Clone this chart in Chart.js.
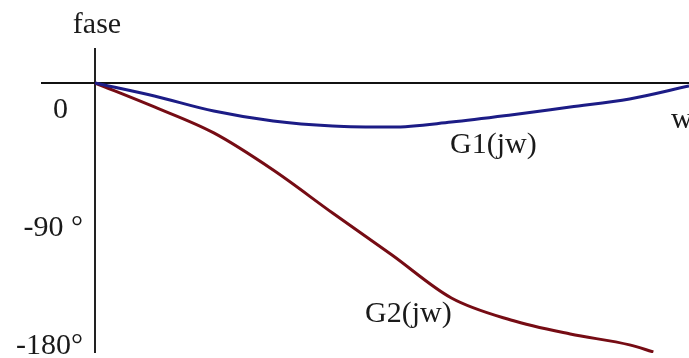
<!DOCTYPE html>
<html>
<head>
<meta charset="utf-8">
<script src="https://cdn.jsdelivr.net/npm/chart.js@4.4.1/dist/chart.umd.min.js"></script>
<style>
  html, body { margin: 0; padding: 0; background: #fff; }
  #wrap { width: 689px; height: 358px; position: relative; }
</style>
</head>
<body>
<div id="wrap"><canvas id="c"></canvas></div>
<script>
// Frequency (arbitrary units along w axis)
const omega = [0, 1, 2, 3, 4, 5, 6, 7, 8, 9, 10];
const omegaG2 = [0, 1, 2, 3, 4, 5, 6, 7, 8, 9, 9.4];
// Phase in degrees
const phaseG1 = [0, -9.9, -21.4, -29.0, -32.8, -33.6, -29.8, -24.4, -18.3, -12.2, -2.3];
const phaseG2 = [0, -18.3, -38.1, -66.4, -99.2, -131.2, -164.0, -180.8, -191.5, -199.8, -205.2];
// Y tick values and labels
const yTickValues = [0, -90, -180];
const yTickLabels = ["0  ", "-90 °", "-180°"];
// Texts
const axisTitleY = "fase";
const axisTitleX = "w";
const seriesNames = ["G1(jw)", "G2(jw)"];

const FONT = "'Liberation Serif', 'Times New Roman', serif";

const textPlugin = {
  id: 'texts',
  afterDraw(chart) {
    const ctx = chart.ctx;
    ctx.save();
    ctx.fillStyle = '#1a1a1a';
    ctx.font = "30px " + FONT;
    ctx.textBaseline = 'alphabetic';
    ctx.textAlign = 'center';
    ctx.fillText(axisTitleY, 97, 33);
    ctx.textAlign = 'left';
    ctx.fillText(axisTitleX, 671, 128);
    ctx.fillText(seriesNames[0], 450, 153);
    ctx.fillText(seriesNames[1], 365, 322);
    ctx.restore();
  }
};

new Chart(document.getElementById('c'), {
  type: 'line',
  data: {
    datasets: [
      {
        label: seriesNames[0],
        data: omega.map((x, i) => ({x, y: phaseG1[i]})),
        borderColor: '#1c1c86',
        borderWidth: 3,
        pointRadius: 0,
        cubicInterpolationMode: 'monotone',
        fill: false
      },
      {
        label: seriesNames[1],
        data: omegaG2.map((x, i) => ({x, y: phaseG2[i]})),
        borderColor: '#760c14',
        borderWidth: 3,
        pointRadius: 0,
        cubicInterpolationMode: 'monotone',
        fill: false
      }
    ]
  },
  options: {
    responsive: true,
    maintainAspectRatio: false,
    animation: false,
    layout: { padding: { left: 42, top: 48, right: 0, bottom: 5 } },
    plugins: { legend: { display: false }, tooltip: { enabled: false } },
    scales: {
      x: {
        type: 'linear',
        min: -0.892,
        max: 10,
        position: { y: 0 },
        afterBuildTicks(axis) { axis.ticks = [{ value: 0 }]; },
        grid: { display: true, drawOnChartArea: true, drawTicks: false, color: '#222', lineWidth: 2 },
        border: { display: true, color: '#111', width: 2 },
        ticks: { display: false },
        afterFit(axis) { axis.paddingLeft = 0; axis.paddingRight = 0; axis.paddingTop = 0; axis.paddingBottom = 0; }
      },
      y: {
        type: 'linear',
        min: -206,
        max: 26.7,
        position: { x: -0.2 },
        grid: { display: false },
        border: { display: false },
        afterBuildTicks(axis) { axis.ticks = yTickValues.map(v => ({ value: v })); },
        afterFit(axis) { axis.paddingLeft = 0; axis.paddingRight = 0; axis.paddingTop = 0; axis.paddingBottom = 0; },
        ticks: {
          autoSkip: false,
          padding: 0,
          labelOffset: 27,
          color: '#1a1a1a',
          font: { family: FONT, size: 30 },
          callback: (v) => yTickLabels[yTickValues.indexOf(v)]
        }
      }
    }
  },
  plugins: [textPlugin]
});
</script>
</body>
</html>
